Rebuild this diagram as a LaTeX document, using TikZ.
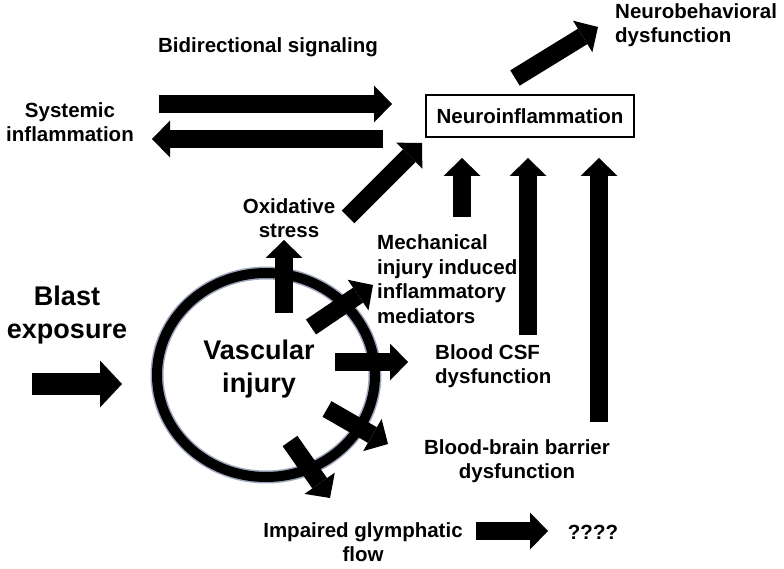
\documentclass[tikz,border=0pt]{standalone}
\usepackage{fontspec}
\setmainfont{Liberation Sans}
\usetikzlibrary{arrows.meta}
\begin{document}
\begin{tikzpicture}[x=1pt,y=-1pt,
  lbl/.style={font=\fontsize{20.5}{24.5}\selectfont\bfseries, inner sep=0pt, align=center},
  lbll/.style={lbl, align=left},
  big/.style={font=\fontsize{27}{33}\selectfont\bfseries, inner sep=0pt, align=center},
  blk/.style={line width=18pt, -{Triangle[width=37pt,length=18pt,line width=0pt]}},
  blkbig/.style={line width=22pt, -{Triangle[width=47pt,length=22pt,line width=0pt]}},
  boxnode/.style={draw, line width=1.5pt, minimum width=208pt, minimum height=42pt, inner sep=0pt}
]
\useasboundingbox (0,0) rectangle (784,569);

% ring
\coordinate (ringc) at (266,375);
\draw[line width=13pt, color={rgb,255:red,40;green,60;blue,110}, opacity=0.45] (ringc) ellipse [x radius=109, y radius=102];
\draw[line width=10pt] (ringc) ellipse [x radius=109, y radius=102];

% labels
\node[lbl] (sys) at (70,122) {Systemic\\inflammation};
\node[lbl] (bidir) at (268,47) {Bidirectional signaling};
\node[lbll, anchor=west] (neurob) at (615,25) {Neurobehavioral\\dysfunction};
\node[boxnode, lbl] (neuroinf) at (530,116) {Neuroinflammation};
\node[lbl] (oxi) at (289,218) {Oxidative\\stress};
\node[lbll, anchor=west] (mech) at (377,279) {Mechanical\\injury induced\\inflammatory\\mediators};
\node[big] (blast) at (67,315) {Blast\\exposure};
\node[big] (vasc) at (259,369) {Vascular\\injury};
\node[lbll, anchor=west] (csf) at (435,366) {Blood CSF\\dysfunction};
\node[lbl] (bbb) at (517,461) {Blood-brain barrier\\dysfunction};
\node[lbl] (glym) at (363,542) {Impaired glymphatic\\flow};
\node[lbl] (unk) at (593,532) {????};

% arrow end points
\coordinate (bi1s) at (159,104);  \coordinate (bi1e) at (392,104);
\coordinate (bi2s) at (383,139);  \coordinate (bi2e) at (152,139);
\coordinate (nbs) at (515,78);    \coordinate (nbe) at (598,27);
\coordinate (oxs) at (348,217);   \coordinate (oxe) at (422,143);
\coordinate (u1s) at (462,217);   \coordinate (u1e) at (462,158);
\coordinate (u2s) at (528,335);   \coordinate (u2e) at (528,158);
\coordinate (u3s) at (599,422);   \coordinate (u3e) at (599,158);
\coordinate (bls) at (32,384);    \coordinate (ble) at (122,384);
\coordinate (c1s) at (284,313);   \coordinate (c1e) at (284,240);
\coordinate (c2s) at (311,327);   \coordinate (c2e) at (373,285);
\coordinate (c3s) at (335,362);   \coordinate (c3e) at (408,362);
\coordinate (c4s) at (327,409);   \coordinate (c4e) at (388,444);
\coordinate (c5s) at (290,441);   \coordinate (c5e) at (330,498);
\coordinate (gls) at (476,531);   \coordinate (gle) at (548,531);

\draw[blk] (bi1s) -- (bi1e);
\draw[blk] (bi2s) -- (bi2e);
\draw[blk] (nbs) -- (nbe);
\draw[blk] (oxs) -- (oxe);
\draw[blk] (u1s) -- (u1e);
\draw[blk] (u2s) -- (u2e);
\draw[blk] (u3s) -- (u3e);
\draw[blkbig] (bls) -- (ble);
\draw[blk] (c1s) -- (c1e);
\draw[blk] (c2s) -- (c2e);
\draw[blk] (c3s) -- (c3e);
\draw[blk] (c4s) -- (c4e);
\draw[blk] (c5s) -- (c5e);
\draw[blk] (gls) -- (gle);
\end{tikzpicture}
\end{document}
